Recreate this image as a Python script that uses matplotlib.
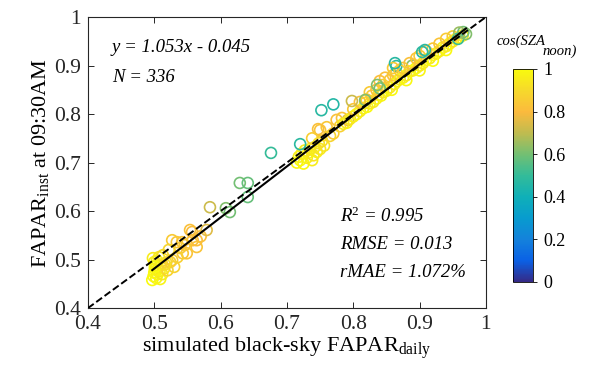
import numpy as np
import matplotlib
matplotlib.use("Agg")
import matplotlib.pyplot as plt
from matplotlib.colors import LinearSegmentedColormap

plt.rcParams['font.family'] = ['Liberation Serif', 'DejaVu Serif']
plt.rcParams['mathtext.fontset'] = 'custom'
plt.rcParams['mathtext.rm'] = 'Liberation Serif'
plt.rcParams['mathtext.it'] = 'Liberation Serif:italic'

# simulated black-sky FAPAR_daily, FAPAR_inst at 09:30AM, cos(SZA_noon)
x_low = [0.497, 0.499, 0.500, 0.501, 0.502, 0.500, 0.503, 0.505, 0.506, 0.498, 0.508, 0.510,
         0.504, 0.512, 0.507, 0.515, 0.501, 0.509,
         0.513, 0.518, 0.520, 0.524, 0.527, 0.527, 0.530, 0.534, 0.539, 0.542, 0.543, 0.549,
         0.554, 0.557, 0.558, 0.564, 0.564, 0.570, 0.535, 0.522, 0.516, 0.546]
y_low = [0.458, 0.466, 0.473, 0.480, 0.488, 0.495, 0.462, 0.470, 0.483, 0.503, 0.476, 0.490,
         0.498, 0.470, 0.505, 0.482, 0.485, 0.460,
         0.509, 0.494, 0.478, 0.495, 0.499, 0.540, 0.485, 0.536, 0.524, 0.536, 0.513, 0.513,
         0.561, 0.557, 0.540, 0.526, 0.540, 0.548, 0.505, 0.520, 0.490, 0.530]
c_low = [1.00, 0.99, 1.00, 0.98, 0.97, 0.96, 0.99, 0.98, 0.97, 0.95, 0.96, 0.95,
         0.97, 0.94, 0.94, 0.93, 1.00, 0.98,
         0.90, 0.90, 0.88, 0.87, 0.86, 0.85, 0.88, 0.84, 0.85, 0.83, 0.84, 0.83,
         0.82, 0.81, 0.82, 0.83, 0.81, 0.82, 0.87, 0.89, 0.92, 0.84]

x_gap = [0.579, 0.584, 0.608, 0.614, 0.629, 0.641, 0.641, 0.676]
y_gap = [0.561, 0.608, 0.606, 0.598, 0.658, 0.658, 0.629, 0.720]
c_gap = [0.75, 0.72, 0.62, 0.60, 0.60, 0.58, 0.58, 0.50]

x_mid = [0.715, 0.718, 0.720, 0.722, 0.725, 0.727, 0.730, 0.732, 0.735, 0.738, 0.740, 0.742,
         0.745, 0.748, 0.750, 0.753, 0.756,
         0.720, 0.752, 0.770, 0.750, 0.760, 0.770, 0.775, 0.783, 0.792, 0.747, 0.738, 0.765,
         0.780]
y_mid = [0.700, 0.712, 0.705, 0.718, 0.698, 0.725, 0.710, 0.720, 0.728, 0.705, 0.715, 0.732,
         0.722, 0.740, 0.728, 0.745, 0.735,
         0.738, 0.808, 0.820, 0.767, 0.773, 0.760, 0.788, 0.792, 0.788, 0.769, 0.750, 0.755,
         0.775]
c_mid = [0.98, 0.97, 1.00, 0.96, 0.99, 0.95, 0.97, 0.98, 0.94, 0.96, 0.93, 0.95,
         0.96, 0.92, 0.94, 0.91, 0.93,
         0.48, 0.47, 0.46, 0.83, 0.84, 0.85, 0.82, 0.83, 0.75, 0.82, 0.86, 0.88,
         0.87]

x_high = [0.785, 0.790, 0.795, 0.800, 0.805, 0.810, 0.815, 0.818, 0.821, 0.825, 0.830, 0.835,
          0.838, 0.842, 0.845, 0.850, 0.855, 0.858, 0.862, 0.866,
          0.800, 0.810, 0.820, 0.828, 0.835, 0.840, 0.848, 0.855, 0.860, 0.845, 0.825, 0.865,
          0.798, 0.818, 0.836, 0.840, 0.865, 0.889,
          0.870, 0.875, 0.880, 0.885, 0.890, 0.895, 0.900, 0.905, 0.910, 0.915, 0.920, 0.925,
          0.930, 0.935, 0.940, 0.945, 0.950, 0.955, 0.960, 0.965, 0.880, 0.900, 0.920, 0.940,
          0.875, 0.885, 0.895, 0.900, 0.910, 0.920, 0.930, 0.940, 0.950, 0.870, 0.860,
          0.863, 0.904, 0.908, 0.958, 0.966, 0.970, 0.960]
y_high = [0.780, 0.782, 0.790, 0.795, 0.800, 0.806, 0.812, 0.823, 0.815, 0.822, 0.825, 0.832,
          0.840, 0.838, 0.845, 0.848, 0.855, 0.850, 0.862, 0.868,
          0.810, 0.825, 0.830, 0.838, 0.850, 0.868, 0.875, 0.870, 0.880, 0.860, 0.845, 0.885,
          0.827, 0.829, 0.860, 0.853, 0.899, 0.900,
          0.872, 0.875, 0.880, 0.888, 0.890, 0.895, 0.900, 0.905, 0.912, 0.915, 0.922, 0.925,
          0.930, 0.937, 0.940, 0.945, 0.950, 0.955, 0.958, 0.962, 0.870, 0.890, 0.910, 0.932,
          0.895, 0.905, 0.915, 0.920, 0.930, 0.935, 0.945, 0.955, 0.960, 0.890, 0.895,
          0.905, 0.928, 0.932, 0.955, 0.969, 0.965, 0.968]
c_high = [0.95, 0.97, 0.93, 0.96, 0.98, 0.95, 0.97, 0.93, 0.99, 0.96, 0.94, 0.97,
          0.95, 0.98, 0.93, 0.96, 0.94, 0.99, 0.95, 0.97,
          0.84, 0.82, 0.83, 0.85, 0.82, 0.81, 0.82, 0.84, 0.83, 0.86, 0.85, 0.83,
          0.72, 0.62, 0.62, 0.60, 0.48, 0.62,
          0.96, 0.98, 0.94, 0.97, 0.95, 0.99, 0.96, 0.93, 0.97, 0.95, 0.98, 0.94,
          0.96, 0.97, 0.95, 0.98, 0.93, 0.96, 0.97, 0.95, 0.99, 0.98, 1.00, 0.99,
          0.84, 0.82, 0.83, 0.85, 0.82, 0.84, 0.83, 0.85, 0.86, 0.86, 0.85,
          0.47, 0.48, 0.47, 0.50, 0.60, 0.62, 0.65]

x = np.array(x_low + x_gap + x_mid + x_high)
y = np.array(y_low + y_gap + y_mid + y_high)
c = np.array(c_low + c_gap + c_mid + c_high)

slope, intercept = 1.053, -0.045
ticks = [0.4, 0.5, 0.6, 0.7, 0.8, 0.9, 1.0]
tick_labels = ['0.4', '0.5', '0.6', '0.7', '0.8', '0.9', '1']
cbar_ticks = [0, 0.2, 0.4, 0.6, 0.8, 1]
cbar_labels = ['0', '0.2', '0.4', '0.6', '0.8', '1']

# rough MATLAB parula
parula = LinearSegmentedColormap.from_list('parula', [
    (0.208, 0.166, 0.529), (0.040, 0.380, 0.900), (0.077, 0.510, 0.860),
    (0.030, 0.610, 0.810), (0.060, 0.690, 0.720), (0.200, 0.735, 0.600),
    (0.450, 0.750, 0.450), (0.750, 0.735, 0.310), (0.985, 0.730, 0.240),
    (0.965, 0.850, 0.170), (0.976, 0.983, 0.054)])

fig = plt.figure(figsize=(5.94, 3.79), dpi=100)
ax = fig.add_axes([0.148, 0.187, 0.670, 0.768])

ax.scatter(x, y, s=62, facecolors='none', edgecolors=parula(c), linewidths=1.2, zorder=2)
ax.plot([0.4, 1.0], [0.4, 1.0], 'k--', lw=1.4, zorder=3)
xf = np.array([0.497, 0.97])
ax.plot(xf, slope * xf + intercept, 'k-', lw=1.5, zorder=4)

ax.set_xlim(0.4, 1.0)
ax.set_ylim(0.4, 1.0)
ax.set_xticks(ticks)
ax.set_xticklabels(tick_labels)
ax.set_yticks(ticks)
ax.set_yticklabels(tick_labels)
ax.tick_params(direction='in', top=True, right=True, length=4, width=0.7,
               labelsize=15.5, colors='#262626', pad=5)
for sp in ax.spines.values():
    sp.set_color('#262626')
    sp.set_linewidth(0.8)

ax.set_xlabel('simulated black-sky FAPAR$_{\\mathrm{daily}}$', fontsize=16, labelpad=1)
ax.set_ylabel('FAPAR$_{\\mathrm{inst}}$ at 09:30AM', fontsize=16, labelpad=2)

ax.text(0.436, 0.928, 'y = 1.053x - 0.045', fontsize=13.5, style='italic')
ax.text(0.436, 0.866, 'N = 336', fontsize=13.5, style='italic')
ax.text(0.780, 0.577, 'R$^{2}$ = 0.995', fontsize=13.5, style='italic')
ax.text(0.780, 0.522, 'RMSE = 0.013', fontsize=13.5, style='italic')
ax.text(0.780, 0.464, 'rMAE = 1.072%', fontsize=13.5, style='italic')

cax = fig.add_axes([0.864, 0.256, 0.034, 0.562])
sm = plt.cm.ScalarMappable(cmap=parula, norm=plt.Normalize(0, 1))
cb = fig.colorbar(sm, cax=cax, ticks=cbar_ticks)
cb.ax.set_yticklabels(cbar_labels)
cb.ax.tick_params(labelsize=13, length=3, width=0.6, direction='out', pad=4)
cb.outline.set_linewidth(0.6)
fig.text(0.836, 0.881, 'cos(SZA', fontsize=10.5, style='italic')
fig.text(0.913, 0.856, 'noon)', fontsize=10.5, style='italic')

fig.savefig('out.png', dpi=100)
